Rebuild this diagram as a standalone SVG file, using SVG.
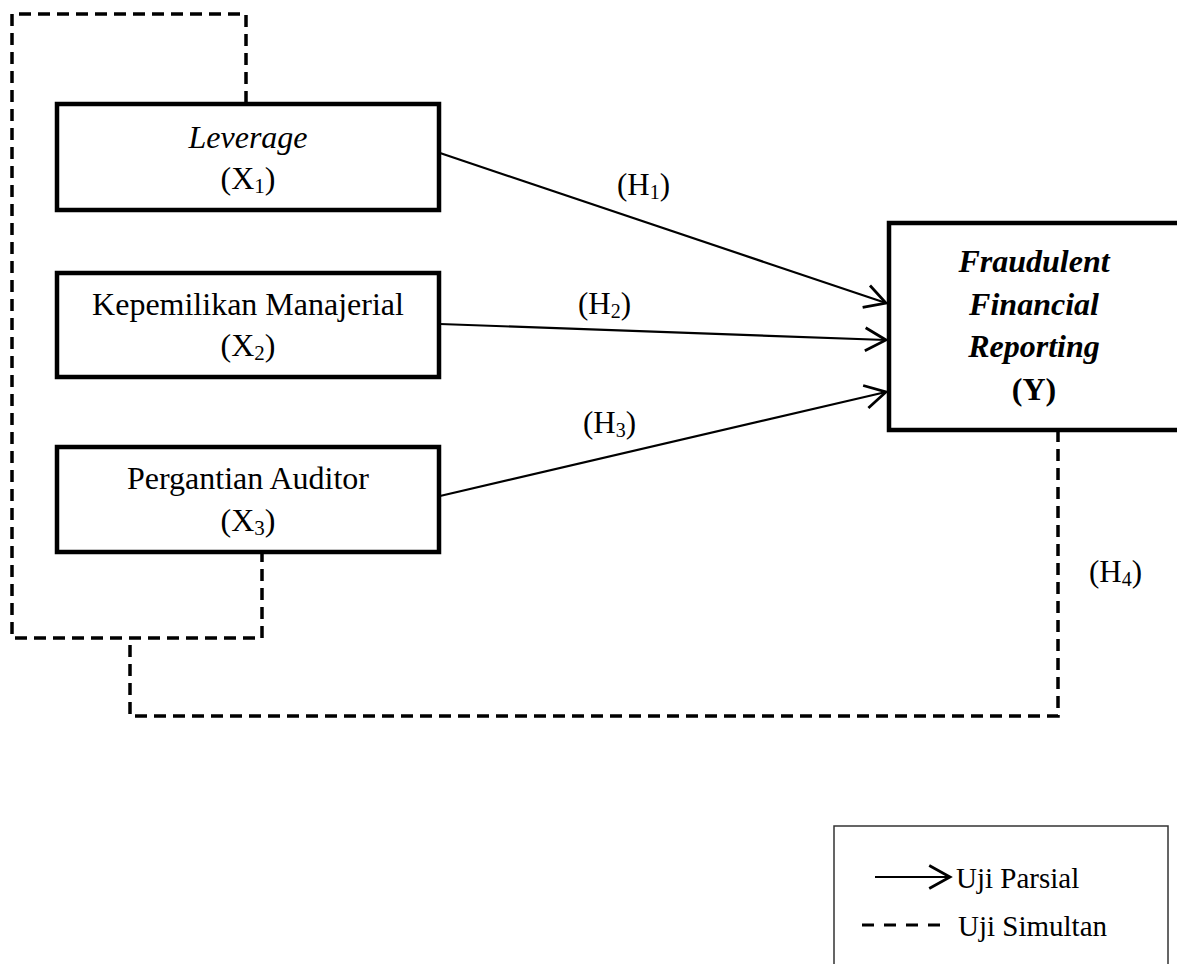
<svg xmlns="http://www.w3.org/2000/svg" width="1177" height="964" viewBox="0 0 1177 964">
<style>
.box{fill:#fff;stroke:#000;stroke-width:4.5}
.t{font-family:"Liberation Serif","Times New Roman",serif;font-size:32px;fill:#000;text-anchor:middle}
.h{font-family:"Liberation Serif","Times New Roman",serif;font-size:31px;fill:#000}
.lg{font-family:"Liberation Serif","Times New Roman",serif;font-size:29px;fill:#000}
.arr{stroke:#000;stroke-width:2.2;fill:none;marker-end:url(#ah)}
.dash{stroke:#000;stroke-width:3.5;fill:none;stroke-dasharray:12 7}
</style>
<defs>
<marker id="ah" markerUnits="userSpaceOnUse" markerWidth="30" markerHeight="30" viewBox="-22 -12 26 24" refX="0" refY="0" orient="auto">
<path d="M-18,-10 L0,0 L-18,10" fill="none" stroke="#000" stroke-width="2.4"/>
</marker>
</defs>
<rect width="1177" height="964" fill="#fff"/>
<g id="connectors">
<path class="dash" d="M246,103 V14 H12 V638 H262 V553"/>
<path class="dash" d="M130,645 V716 H1058 V430"/>
<line class="arr" x1="440" y1="153" x2="886" y2="303"/>
<line class="arr" x1="440" y1="324" x2="886" y2="340"/>
<line class="arr" x1="440" y1="496" x2="886" y2="392"/>
<text class="h" x="617" y="195">(H<tspan font-size="20" dy="4">1</tspan><tspan dy="-4">)</tspan></text>
<text class="h" x="578" y="314">(H<tspan font-size="20" dy="4">2</tspan><tspan dy="-4">)</tspan></text>
<text class="h" x="583" y="433">(H<tspan font-size="20" dy="4">3</tspan><tspan dy="-4">)</tspan></text>
<text class="h" x="1089" y="582">(H<tspan font-size="20" dy="4">4</tspan><tspan dy="-4">)</tspan></text>
</g>
<g id="x1">
<rect class="box" x="57" y="104" width="382" height="106"/>
<text class="t" x="248" y="148" font-style="italic">Leverage</text>
<text class="t" x="248" y="189">(X<tspan font-size="21" dy="4">1</tspan><tspan dy="-4">)</tspan></text>
</g>
<g id="x2">
<rect class="box" x="57" y="273" width="382" height="104"/>
<text class="t" x="248" y="315">Kepemilikan Manajerial</text>
<text class="t" x="248" y="356">(X<tspan font-size="21" dy="4">2</tspan><tspan dy="-4">)</tspan></text>
</g>
<g id="x3">
<rect class="box" x="57" y="447" width="382" height="105"/>
<text class="t" x="248" y="489">Pergantian Auditor</text>
<text class="t" x="248" y="531">(X<tspan font-size="21" dy="4">3</tspan><tspan dy="-4">)</tspan></text>
</g>
<g id="y">
<rect class="box" x="889" y="223" width="300" height="207"/>
<text class="t" x="1034" y="272" font-style="italic" font-weight="bold">Fraudulent</text>
<text class="t" x="1034" y="315" font-style="italic" font-weight="bold">Financial</text>
<text class="t" x="1034" y="357" font-style="italic" font-weight="bold">Reporting</text>
<text class="t" x="1034" y="400" font-weight="bold">(Y)</text>
</g>
<g id="legend">
<rect x="834" y="826" width="334" height="160" fill="none" stroke="#333" stroke-width="1.5"/>
<line class="arr" x1="875" y1="877" x2="950" y2="877"/>
<text class="lg" x="956" y="888">Uji Parsial</text>
<path d="M862,925 H940" stroke="#000" stroke-width="3" fill="none" stroke-dasharray="12 10"/>
<text class="lg" x="958" y="936">Uji Simultan</text>
</g>
</svg>
